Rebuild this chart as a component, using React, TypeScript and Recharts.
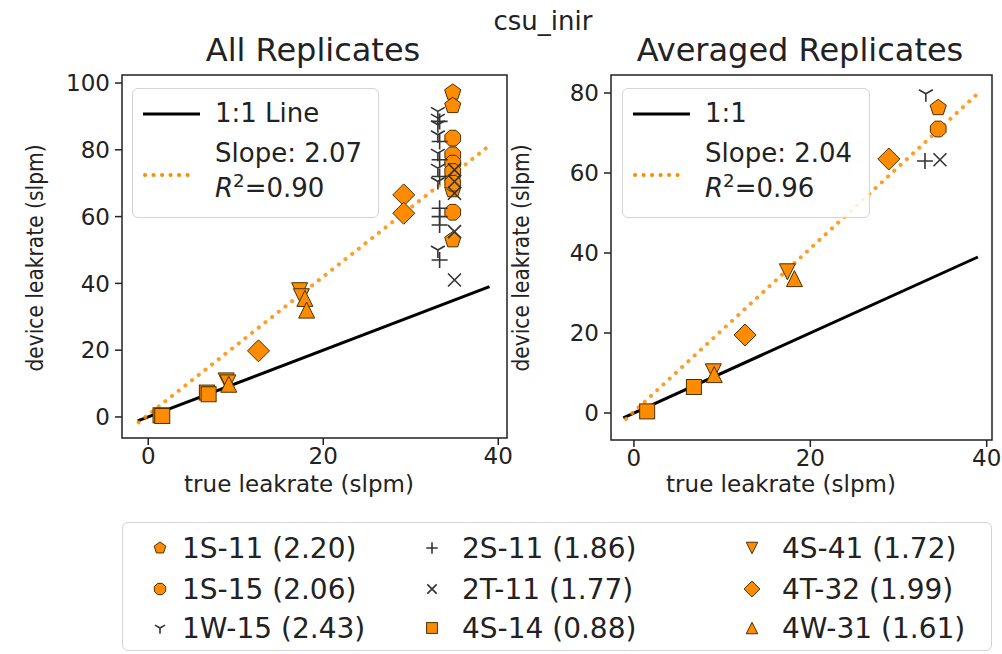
import React from 'react';
import { ScatterChart, Scatter, XAxis, YAxis, ReferenceArea } from 'recharts';

const FONT = '"DejaVu Sans", sans-serif';
const ORANGE = '#ff8c00';
const EDGE = '#4a3000';
const GRAY = '#333333';

// ---- All replicates (left panel) ----
const all1S11 = [
  { x: 34.8, y: 97.2 }, { x: 34.8, y: 93.2 }, { x: 34.8, y: 75.5 },
  { x: 34.8, y: 71.5 }, { x: 34.8, y: 68.0 }, { x: 34.8, y: 53.0 },
];
const all1S15 = [
  { x: 34.8, y: 83.5 }, { x: 34.8, y: 78.5 }, { x: 34.8, y: 76.0 },
  { x: 34.8, y: 73.5 }, { x: 34.8, y: 70.0 }, { x: 34.8, y: 61.3 },
];
const all1W15 = [
  { x: 33.1, y: 91.5 }, { x: 33.1, y: 89.5 }, { x: 33.1, y: 87.5 }, { x: 33.1, y: 84.5 },
  { x: 33.1, y: 79.0 }, { x: 33.1, y: 74.5 }, { x: 33.1, y: 70.5 }, { x: 33.1, y: 50.0 },
];
const all2S11 = [
  { x: 33.3, y: 88.5 }, { x: 33.3, y: 82.5 }, { x: 33.3, y: 77.0 }, { x: 33.3, y: 72.0 },
  { x: 33.3, y: 62.5 }, { x: 33.3, y: 60.0 }, { x: 33.3, y: 57.5 }, { x: 33.3, y: 47.0 },
];
const all2T11 = [
  { x: 35.0, y: 74.0 }, { x: 35.0, y: 70.5 }, { x: 35.0, y: 67.0 },
  { x: 35.0, y: 55.5 }, { x: 35.0, y: 41.0 },
];
const all4S14 = [
  { x: 1.4, y: 0.5 }, { x: 1.6, y: 0.3 }, { x: 6.7, y: 7.3 }, { x: 6.9, y: 6.8 },
];
const all4S41 = [
  { x: 8.9, y: 10.8 }, { x: 9.1, y: 10.2 }, { x: 17.3, y: 37.8 }, { x: 17.5, y: 36.0 },
];
const all4T32 = [
  { x: 12.6, y: 19.8 }, { x: 29.2, y: 66.5 }, { x: 29.2, y: 61.0 },
];
const all4W31 = [
  { x: 9.2, y: 9.8 }, { x: 17.9, y: 35.5 }, { x: 18.1, y: 32.0 },
];

// ---- Averaged replicates (right panel) ----
const avg1S11 = [{ x: 34.5, y: 76.3 }];
const avg1S15 = [{ x: 34.5, y: 71.0 }];
const avg1W15 = [{ x: 33.1, y: 79.8 }];
const avg2S11 = [{ x: 33.0, y: 63.0 }];
const avg2T11 = [{ x: 34.7, y: 63.3 }];
const avg4S14 = [{ x: 1.5, y: 0.4 }, { x: 6.8, y: 6.5 }];
const avg4S41 = [{ x: 9.0, y: 10.3 }, { x: 17.4, y: 35.3 }];
const avg4T32 = [{ x: 12.6, y: 19.5 }, { x: 28.9, y: 63.5 }];
const avg4W31 = [{ x: 9.1, y: 9.6 }, { x: 18.2, y: 33.6 }];

// reference and fit lines
const oneToOne = [{ x: -1.2, y: -1.2 }, { x: 39, y: 39 }];
const fitAll = [{ x: -1.1, y: -1.6 }, { x: 39, y: 81.3 }];
const fitAvg = [{ x: -0.9, y: -1.5 }, { x: 39, y: 79.9 }];

const xTicks = [0, 20, 40];
const yTicksAll = [0, 20, 40, 60, 80, 100];
const yTicksAvg = [0, 20, 40, 60, 80];

const devices = ['1S-11', '1S-15', '1W-15', '2S-11', '2T-11', '4S-14', '4S-41', '4T-32', '4W-31'];
const slopes = ['2.20', '2.06', '2.43', '1.86', '1.77', '0.88', '1.72', '1.99', '1.61'];
const kinds = ['pentagon', 'octagon', 'tri', 'plus', 'cross', 'square', 'tdown', 'diamond', 'tup'];

function poly(cx: number, cy: number, r: number, n: number, rot: number) {
  const pts: string[] = [];
  for (let i = 0; i < n; i++) {
    const a = ((rot + (360 / n) * i) * Math.PI) / 180;
    pts.push(`${cx + r * Math.cos(a)},${cy + r * Math.sin(a)}`);
  }
  return pts.join(' ');
}

function Marker({ kind, cx, cy, k = 1 }: { kind: string; cx: number; cy: number; k?: number }) {
  const f = { fill: ORANGE, stroke: EDGE, strokeWidth: 1 };
  const g = { stroke: GRAY, strokeWidth: 1.6, fill: 'none' };
  switch (kind) {
    case 'pentagon':
      return <polygon points={poly(cx, cy, 8.5 * k, 5, -90)} {...f} />;
    case 'octagon':
      return <polygon points={poly(cx, cy, 8.5 * k, 8, 22.5)} {...f} />;
    case 'square':
      return <rect x={cx - 7.5 * k} y={cy - 7.5 * k} width={15 * k} height={15 * k} {...f} />;
    case 'diamond':
      return <polygon points={poly(cx, cy, 11 * k, 4, -90)} {...f} />;
    case 'tdown':
      return <polygon points={`${cx - 8 * k},${cy - 8 * k} ${cx + 8 * k},${cy - 8 * k} ${cx},${cy + 8 * k}`} {...f} />;
    case 'tup':
      return <polygon points={`${cx - 8 * k},${cy + 8 * k} ${cx + 8 * k},${cy + 8 * k} ${cx},${cy - 8 * k}`} {...f} />;
    case 'tri': {
      const r = 8 * k;
      return (
        <path
          d={`M${cx},${cy}L${cx},${cy + r}M${cx},${cy}L${cx - 0.866 * r},${cy - 0.5 * r}M${cx},${cy}L${cx + 0.866 * r},${cy - 0.5 * r}`}
          {...g}
        />
      );
    }
    case 'plus': {
      const r = 8 * k;
      return <path d={`M${cx - r},${cy}H${cx + r}M${cx},${cy - r}V${cy + r}`} {...g} />;
    }
    case 'cross': {
      const r = 6.5 * k;
      return <path d={`M${cx - r},${cy - r}L${cx + r},${cy + r}M${cx - r},${cy + r}L${cx + r},${cy - r}`} {...g} />;
    }
  }
  return <g />;
}

const shapeFor = (kind: string) => (p: any) => <Marker kind={kind} cx={p.cx} cy={p.cy} />;
const noDot = () => <g />;

const tickStyle = { fontSize: 23, fill: '#222', fontFamily: FONT };

function Panel({
  series, fit, xDomain, yDomain, yTicks, width, height, marginRight, marginBottom, yWidth,
}: any) {
  return (
    <ScatterChart width={width} height={height} margin={{ top: 75, right: marginRight, bottom: marginBottom, left: 0 }}>
      <XAxis
        type="number" dataKey="x" domain={xDomain} ticks={xTicks} allowDataOverflow
        axisLine={false} tickSize={7} tickMargin={3} height={50}
        tickLine={{ stroke: '#222', strokeWidth: 1.5 }} tick={tickStyle}
      />
      <YAxis
        type="number" dataKey="y" domain={yDomain} ticks={yTicks} allowDataOverflow
        axisLine={false} tickSize={7} tickMargin={5} width={yWidth}
        tickLine={{ stroke: '#222', strokeWidth: 1.5 }} tick={tickStyle}
      />
      <Scatter data={oneToOne} line={{ stroke: '#000', strokeWidth: 3 }} shape={noDot} isAnimationActive={false} />
      <Scatter
        data={fit}
        line={{ stroke: ORANGE, strokeWidth: 4, strokeDasharray: '0.1 8.4', strokeLinecap: 'round', strokeOpacity: 0.85 }}
        shape={noDot} isAnimationActive={false}
      />
      {series.map((d: any[], i: number) => (
        <Scatter key={devices[i]} data={d} shape={shapeFor(kinds[i])} isAnimationActive={false} />
      ))}
      <ReferenceArea
        x1={xDomain[0]} x2={xDomain[1]} y1={yDomain[0]} y2={yDomain[1]}
        ifOverflow="visible" fill="none" fillOpacity={0} stroke="#222" strokeWidth={1.5} strokeOpacity={1}
      />
    </ScatterChart>
  );
}

const R2 = ({ v }: { v: string }) => (
  <span>
    <i>R</i>
    <sup style={{ fontSize: '0.7em', verticalAlign: '0.55em', lineHeight: 0 }}>2</sup>={v}
  </span>
);

function InsetLegend({ left, top, width, height, first, slope, r2 }: any) {
  const text: React.CSSProperties = { position: 'absolute', left: 82, fontSize: 26, lineHeight: '28px', whiteSpace: 'nowrap' };
  return (
    <div
      style={{
        position: 'absolute', left, top, width, height, border: '1.5px solid #d4d4d4', borderRadius: 6,
        background: 'rgba(255,255,255,0.85)', boxSizing: 'border-box',
      }}
    >
      <svg style={{ position: 'absolute', left: 0, top: 0 }} width={80} height={height}>
        <line x1={10} x2={67} y1={25} y2={25} stroke="#000" strokeWidth={3} />
        <line x1={12} x2={62} y1={86} y2={86} stroke={ORANGE} strokeWidth={4} strokeDasharray="0.1 8.4" strokeLinecap="round" />
      </svg>
      <div style={{ ...text, top: 10 }}>{first}</div>
      <div style={{ ...text, top: 50 }}>Slope: {slope}</div>
      <div style={{ ...text, top: 85 }}><R2 v={r2} /></div>
    </div>
  );
}

const rowsY = [548, 589, 628];
const colMarkerX = [160, 432, 752];
const colTextX = [182, 462, 782];

export default function App() {
  const allSeries = [all1S11, all1S15, all1W15, all2S11, all2T11, all4S14, all4S41, all4T32, all4W31];
  const avgSeries = [avg1S11, avg1S15, avg1W15, avg2S11, avg2T11, avg4S14, avg4S41, avg4T32, avg4W31];
  const label: React.CSSProperties = { position: 'absolute', fontSize: 23, whiteSpace: 'nowrap', color: '#222' };
  return (
    <div style={{ position: 'absolute', left: 0, top: 0, width: 1002, height: 654, background: '#fff', fontFamily: FONT, color: '#222', overflow: 'hidden' }}>
      <div style={{ position: 'absolute', left: 0, top: 0 }}>
        <Panel
          series={allSeries} fit={fitAll} xDomain={[-3, 41]} yDomain={[-6.3, 102.4]} yTicks={yTicksAll}
          width={520} height={520} marginRight={13} marginBottom={32} yWidth={122}
        />
      </div>
      <div style={{ position: 'absolute', left: 490, top: 0 }}>
        <Panel
          series={avgSeries} fit={fitAvg} xDomain={[-2.6, 40.6]} yDomain={[-6.75, 84.5]} yTicks={yTicksAvg}
          width={512} height={520} marginRight={10} marginBottom={30} yWidth={121}
        />
      </div>

      <div style={{ ...label, left: 543, top: 21, fontSize: 26, transform: 'translate(-50%,-50%)' }}>csu_inir</div>
      <div style={{ ...label, left: 313, top: 50, fontSize: 32, transform: 'translate(-50%,-50%)' }}>All Replicates</div>
      <div style={{ ...label, left: 800, top: 50, fontSize: 32, transform: 'translate(-50%,-50%)' }}>Averaged Replicates</div>

      <div style={{ ...label, left: 299, top: 484, transform: 'translate(-50%,-50%)' }}>true leakrate (slpm)</div>
      <div style={{ ...label, left: 781, top: 484, transform: 'translate(-50%,-50%)' }}>true leakrate (slpm)</div>
      <div style={{ ...label, left: 35, top: 258, transform: 'translate(-50%,-50%) rotate(-90deg) scaleX(0.88)' }}>device leakrate (slpm)</div>
      <div style={{ ...label, left: 521, top: 258, transform: 'translate(-50%,-50%) rotate(-90deg) scaleX(0.88)' }}>device leakrate (slpm)</div>

      <InsetLegend left={132} top={88} width={247} height={130} first="1:1 Line" slope="2.07" r2="0.90" />
      <InsetLegend left={622} top={88} width={248} height={130} first="1:1" slope="2.04" r2="0.96" />

      <div
        style={{
          position: 'absolute', left: 122, top: 522, width: 870, height: 129, border: '1.5px solid #d4d4d4',
          borderRadius: 6, boxSizing: 'border-box',
        }}
      />
      <svg style={{ position: 'absolute', left: 0, top: 0 }} width={1002} height={654}>
        {devices.map((d, i) => (
          <Marker key={d} kind={kinds[i]} cx={colMarkerX[Math.floor(i / 3)]} cy={rowsY[i % 3]} k={0.72} />
        ))}
      </svg>
      {devices.map((d, i) => (
        <div
          key={d}
          style={{ ...label, left: colTextX[Math.floor(i / 3)], top: rowsY[i % 3], fontSize: 28, transform: 'translateY(-50%)' }}
        >
          {d} ({slopes[i]})
        </div>
      ))}
    </div>
  );
}
